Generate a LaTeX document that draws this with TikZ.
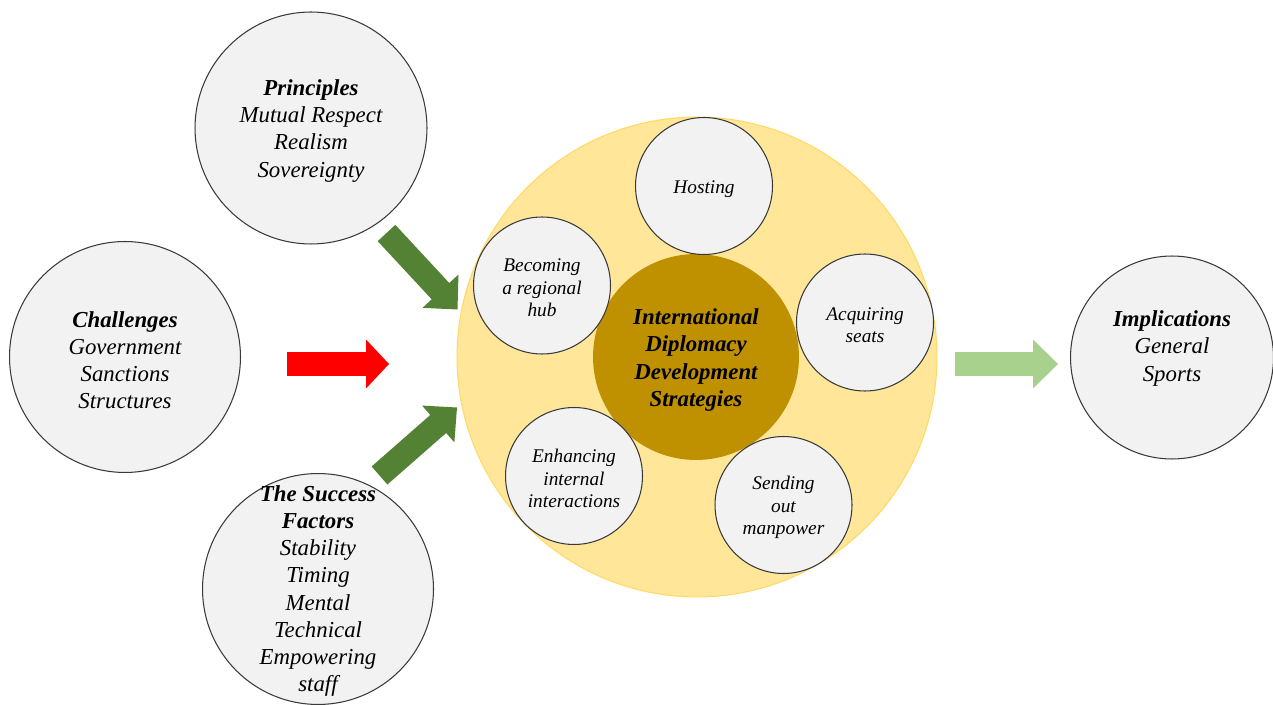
\documentclass[tikz,border=0pt]{standalone}
\usepackage{fontspec}
\setmainfont{Liberation Serif}
\usetikzlibrary{calc}
\definecolor{cfill}{HTML}{F2F2F2}
\definecolor{cline}{HTML}{3A3A3A}
\definecolor{ylw}{HTML}{FFE699}
\definecolor{ylwedge}{HTML}{FFD966}
\definecolor{gold}{HTML}{BF9000}
\definecolor{dgreen}{HTML}{548235}
\definecolor{lgreen}{HTML}{A9D18E}
\definecolor{arrred}{HTML}{FF0000}
\newcommand\blockarrow[4]{%
  \coordinate (bac) at ($(#2)!#4!(#1)$);
  \fill[#3] ($(#1)!0.24cm!90:(#2)$) -- ($(bac)!0.24cm!90:(#2)$) -- ($(bac)!0.49cm!90:(#2)$) -- (#2) -- ($(bac)!0.49cm!-90:(#2)$) -- ($(bac)!0.24cm!-90:(#2)$) -- ($(#1)!0.24cm!-90:(#2)$) -- cycle;}
\begin{document}
\begin{tikzpicture}[x=0.02cm,y=-0.02cm,
  bubble/.style={circle, draw=cline, line width=0.6pt, fill=cfill, inner sep=0pt},
  bigtext/.style={align=center, inner sep=0pt, font=\itshape\fontsize{13}{15.4}\selectfont},
  smalltext/.style={align=center, inner sep=0pt, font=\itshape\fontsize{11}{12.8}\selectfont}]
\useasboundingbox (0,0) rectangle (1273,705);

% outer groups
\node[bubble, minimum size=4.64cm] (princ) at (311,128) {};
\node[bigtext] (princtxt) at ($(princ)+(0,3)$) {\textbf{Principles}\\Mutual Respect\\Realism\\Sovereignty};
\node[bubble, minimum size=4.62cm] (chall) at (125,357) {};
\node[bigtext] (challtxt) at ($(chall)+(0,3)$) {\textbf{Challenges}\\Government\\Sanctions\\Structures};
\node[bubble, minimum size=4.62cm] (succ) at (318,589) {};
\node[bigtext] (succtxt) at ($(succ)+(0,2)$) {\textbf{The Success}\\\textbf{Factors}\\Stability\\Timing\\Mental\\Technical\\Empowering\\staff};
\node[bubble, minimum size=4.06cm] (impl) at (1172,357.5) {};
\node[bigtext] (impltxt) at ($(impl)+(0,-9)$) {\textbf{Implications}\\General\\Sports};

% central strategy
\node[circle, fill=ylw, draw=ylwedge, line width=0.6pt, minimum size=9.6cm, inner sep=0pt] (big) at (697,357) {};
\node[circle, fill=gold, minimum size=4.12cm, inner sep=0pt] (core) at (696,357) {};
\node[bigtext, font=\bfseries\itshape\fontsize{13}{15.4}\selectfont] (coretxt) at ($(core)+(0,3)$) {International\\Diplomacy\\Development\\Strategies};
\node[bubble, minimum size=2.74cm] (host) at (704,186) {};
\node[smalltext] (hosttxt) at ($(host)+(0,3)$) {Hosting};
\node[bubble, minimum size=2.74cm] (hub) at (542,285.5) {};
\node[smalltext] (hubtxt) at ($(hub)+(0,2.5)$) {Becoming\\a regional\\hub};
\node[bubble, minimum size=2.74cm] (seats) at (865,322.5) {};
\node[smalltext] (seatstxt) at ($(seats)+(0,2.5)$) {Acquiring\\seats};
\node[bubble, minimum size=2.74cm] (enh) at (574,476) {};
\node[smalltext] (enhtxt) at ($(enh)+(0,2.5)$) {Enhancing\\internal\\interactions};
\node[bubble, minimum size=2.74cm] (send) at (783.5,505) {};
\node[smalltext] (sendtxt) at ($(send)+(0,2.5)$) {Sending\\out\\manpower};

% arrows
\coordinate (redA) at (287,364);
\coordinate (redB) at (389,364);
\coordinate (lgA) at (955,364);
\coordinate (lgB) at (1058,364);
\coordinate (tgA) at (386.5,233);
\coordinate (tgB) at (457.5,309.5);
\coordinate (bgA) at (379.5,475.5);
\coordinate (bgB) at (457,407.5);
\blockarrow{redA}{redB}{arrred}{0.46cm}
\blockarrow{lgA}{lgB}{lgreen}{0.5cm}
\blockarrow{tgA}{tgB}{dgreen}{0.5cm}
\blockarrow{bgA}{bgB}{dgreen}{0.5cm}
\end{tikzpicture}
\end{document}
